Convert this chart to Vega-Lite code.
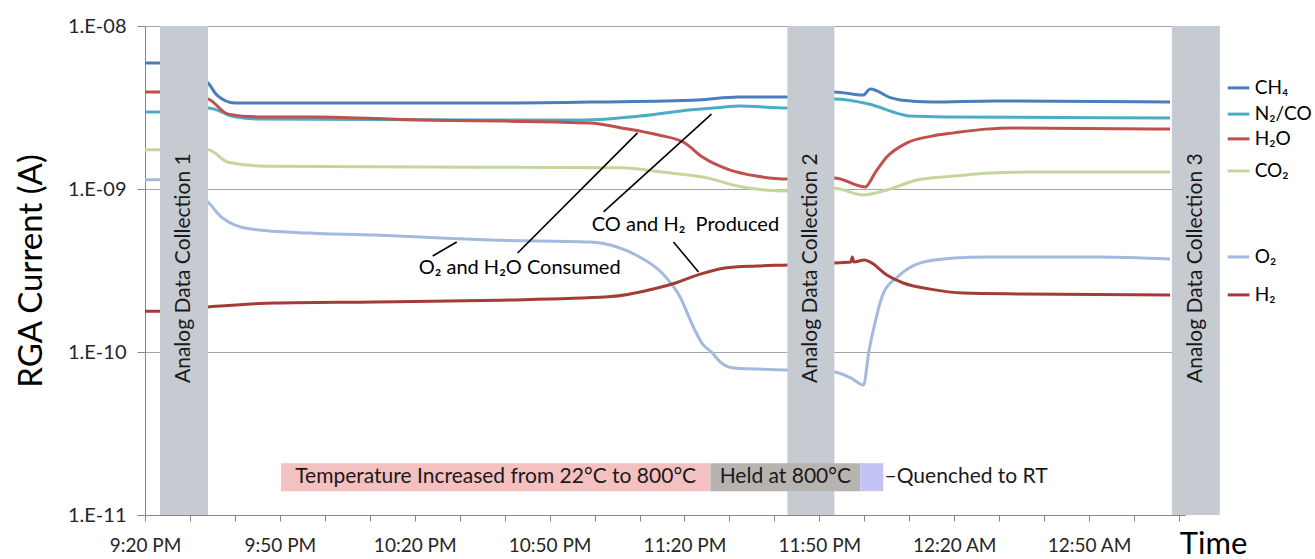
{
  "$schema": "https://vega.github.io/schema/vega-lite/v6.json",
  "width": 1040,
  "height": 489,
  "autosize": {"type": "none"},
  "padding": {"left": 145, "top": 26, "right": 130, "bottom": 44},
  "background": "white",
  "config": {"font": "Lato, 'Noto Sans', 'DejaVu Sans', sans-serif", "view": {"stroke": null}},
  "datasets": {
    "series": [
      {"s":"CH₄","t":"2020-01-01T21:20:00","v":5.93e-9},
      {"s":"CH₄","t":"2020-01-01T21:23:20","v":5.93e-9},
      {"s":"CH₄","t":"2020-01-01T21:34:00","v":4.47e-9},
      {"s":"CH₄","t":"2020-01-01T21:36:00","v":3.77e-9},
      {"s":"CH₄","t":"2020-01-01T21:40:00","v":3.37e-9},
      {"s":"CH₄","t":"2020-01-01T22:16:00","v":3.37e-9},
      {"s":"CH₄","t":"2020-01-01T22:40:00","v":3.37e-9},
      {"s":"CH₄","t":"2020-01-01T23:01:00","v":3.42e-9},
      {"s":"CH₄","t":"2020-01-01T23:23:00","v":3.52e-9},
      {"s":"CH₄","t":"2020-01-01T23:32:00","v":3.67e-9},
      {"s":"CH₄","t":"2020-01-01T23:43:00","v":3.67e-9},
      {"s":"CH₄","t":"2020-01-01T23:53:20","v":3.94e-9},
      {"s":"CH₄","t":"2020-01-01T23:59:45","v":3.77e-9},
      {"s":"CH₄","t":"2020-01-02T00:01:20","v":4.11e-9},
      {"s":"CH₄","t":"2020-01-02T00:06:00","v":3.62e-9},
      {"s":"CH₄","t":"2020-01-02T00:08:00","v":3.52e-9},
      {"s":"CH₄","t":"2020-01-02T00:15:00","v":3.42e-9},
      {"s":"CH₄","t":"2020-01-02T00:29:00","v":3.47e-9},
      {"s":"CH₄","t":"2020-01-02T01:08:00","v":3.42e-9},

      {"s":"N₂/CO","t":"2020-01-01T21:20:00","v":2.97e-9},
      {"s":"N₂/CO","t":"2020-01-01T21:23:20","v":2.97e-9},
      {"s":"N₂/CO","t":"2020-01-01T21:34:00","v":3.14e-9},
      {"s":"N₂/CO","t":"2020-01-01T21:40:00","v":2.77e-9},
      {"s":"N₂/CO","t":"2020-01-01T21:45:00","v":2.69e-9},
      {"s":"N₂/CO","t":"2020-01-01T22:57:00","v":2.65e-9},
      {"s":"N₂/CO","t":"2020-01-01T23:10:00","v":2.80e-9},
      {"s":"N₂/CO","t":"2020-01-01T23:21:00","v":3.05e-9},
      {"s":"N₂/CO","t":"2020-01-01T23:29:00","v":3.19e-9},
      {"s":"N₂/CO","t":"2020-01-01T23:32:00","v":3.23e-9},
      {"s":"N₂/CO","t":"2020-01-01T23:43:00","v":3.14e-9},
      {"s":"N₂/CO","t":"2020-01-01T23:53:20","v":3.57e-9},
      {"s":"N₂/CO","t":"2020-01-02T00:01:00","v":3.32e-9},
      {"s":"N₂/CO","t":"2020-01-02T00:08:00","v":2.88e-9},
      {"s":"N₂/CO","t":"2020-01-02T00:10:00","v":2.80e-9},
      {"s":"N₂/CO","t":"2020-01-02T00:18:00","v":2.77e-9},
      {"s":"N₂/CO","t":"2020-01-02T01:08:00","v":2.73e-9},

      {"s":"H₂O","t":"2020-01-01T21:20:00","v":3.94e-9},
      {"s":"H₂O","t":"2020-01-01T21:23:20","v":3.94e-9},
      {"s":"H₂O","t":"2020-01-01T21:34:00","v":3.57e-9},
      {"s":"H₂O","t":"2020-01-01T21:38:30","v":2.88e-9},
      {"s":"H₂O","t":"2020-01-01T21:45:00","v":2.77e-9},
      {"s":"H₂O","t":"2020-01-01T21:58:00","v":2.77e-9},
      {"s":"H₂O","t":"2020-01-01T22:21:00","v":2.65e-9},
      {"s":"H₂O","t":"2020-01-01T22:40:00","v":2.61e-9},
      {"s":"H₂O","t":"2020-01-01T22:59:00","v":2.54e-9},
      {"s":"H₂O","t":"2020-01-01T23:06:00","v":2.37e-9},
      {"s":"H₂O","t":"2020-01-01T23:14:00","v":2.15e-9},
      {"s":"H₂O","t":"2020-01-01T23:20:00","v":1.92e-9},
      {"s":"H₂O","t":"2020-01-01T23:24:00","v":1.57e-9},
      {"s":"H₂O","t":"2020-01-01T23:30:00","v":1.31e-9},
      {"s":"H₂O","t":"2020-01-01T23:36:00","v":1.20e-9},
      {"s":"H₂O","t":"2020-01-01T23:43:00","v":1.15e-9},
      {"s":"H₂O","t":"2020-01-01T23:53:20","v":1.17e-9},
      {"s":"H₂O","t":"2020-01-02T00:00:10","v":1.03e-9},
      {"s":"H₂O","t":"2020-01-02T00:02:30","v":1.27e-9},
      {"s":"H₂O","t":"2020-01-02T00:05:00","v":1.57e-9},
      {"s":"H₂O","t":"2020-01-02T00:09:30","v":1.92e-9},
      {"s":"H₂O","t":"2020-01-02T00:15:00","v":2.11e-9},
      {"s":"H₂O","t":"2020-01-02T00:20:00","v":2.21e-9},
      {"s":"H₂O","t":"2020-01-02T00:27:00","v":2.33e-9},
      {"s":"H₂O","t":"2020-01-02T00:33:00","v":2.37e-9},
      {"s":"H₂O","t":"2020-01-02T01:08:00","v":2.33e-9},

      {"s":"CO₂","t":"2020-01-01T21:20:00","v":1.74e-9},
      {"s":"CO₂","t":"2020-01-01T21:23:20","v":1.74e-9},
      {"s":"CO₂","t":"2020-01-01T21:34:00","v":1.74e-9},
      {"s":"CO₂","t":"2020-01-01T21:38:30","v":1.46e-9},
      {"s":"CO₂","t":"2020-01-01T21:47:00","v":1.38e-9},
      {"s":"CO₂","t":"2020-01-01T22:40:00","v":1.36e-9},
      {"s":"CO₂","t":"2020-01-01T23:06:00","v":1.35e-9},
      {"s":"CO₂","t":"2020-01-01T23:15:00","v":1.27e-9},
      {"s":"CO₂","t":"2020-01-01T23:25:00","v":1.17e-9},
      {"s":"CO₂","t":"2020-01-01T23:32:00","v":1.04e-9},
      {"s":"CO₂","t":"2020-01-01T23:43:00","v":9.72e-10},
      {"s":"CO₂","t":"2020-01-01T23:53:20","v":1.01e-9},
      {"s":"CO₂","t":"2020-01-01T23:59:45","v":9.19e-10},
      {"s":"CO₂","t":"2020-01-02T00:05:00","v":9.86e-10},
      {"s":"CO₂","t":"2020-01-02T00:12:00","v":1.14e-9},
      {"s":"CO₂","t":"2020-01-02T00:20:00","v":1.20e-9},
      {"s":"CO₂","t":"2020-01-02T00:27:00","v":1.25e-9},
      {"s":"CO₂","t":"2020-01-02T00:36:00","v":1.27e-9},
      {"s":"CO₂","t":"2020-01-02T01:08:00","v":1.27e-9},

      {"s":"O₂","t":"2020-01-01T21:20:00","v":1.14e-9},
      {"s":"O₂","t":"2020-01-01T21:23:20","v":1.14e-9},
      {"s":"O₂","t":"2020-01-01T21:34:00","v":8.32e-10},
      {"s":"O₂","t":"2020-01-01T21:37:00","v":6.73e-10},
      {"s":"O₂","t":"2020-01-01T21:43:30","v":5.68e-10},
      {"s":"O₂","t":"2020-01-01T21:56:00","v":5.37e-10},
      {"s":"O₂","t":"2020-01-01T22:11:00","v":5.22e-10},
      {"s":"O₂","t":"2020-01-01T22:26:00","v":5.00e-10},
      {"s":"O₂","t":"2020-01-01T22:37:00","v":4.86e-10},
      {"s":"O₂","t":"2020-01-01T22:59:00","v":4.73e-10},
      {"s":"O₂","t":"2020-01-01T23:05:00","v":4.41e-10},
      {"s":"O₂","t":"2020-01-01T23:10:00","v":3.83e-10},
      {"s":"O₂","t":"2020-01-01T23:15:00","v":3.05e-10},
      {"s":"O₂","t":"2020-01-01T23:19:00","v":2.18e-10},
      {"s":"O₂","t":"2020-01-01T23:22:00","v":1.42e-10},
      {"s":"O₂","t":"2020-01-01T23:24:00","v":1.12e-10},
      {"s":"O₂","t":"2020-01-01T23:26:00","v":1.00e-10},
      {"s":"O₂","t":"2020-01-01T23:28:00","v":8.68e-11},
      {"s":"O₂","t":"2020-01-01T23:31:00","v":7.98e-11},
      {"s":"O₂","t":"2020-01-01T23:43:00","v":7.75e-11},
      {"s":"O₂","t":"2020-01-01T23:53:20","v":7.54e-11},
      {"s":"O₂","t":"2020-01-01T23:57:00","v":6.93e-11},
      {"s":"O₂","t":"2020-01-01T23:59:50","v":6.27e-11},
      {"s":"O₂","t":"2020-01-02T00:01:00","v":1.00e-10},
      {"s":"O₂","t":"2020-01-02T00:02:00","v":1.36e-10},
      {"s":"O₂","t":"2020-01-02T00:04:15","v":2.30e-10},
      {"s":"O₂","t":"2020-01-02T00:07:20","v":2.88e-10},
      {"s":"O₂","t":"2020-01-02T00:12:30","v":3.52e-10},
      {"s":"O₂","t":"2020-01-02T00:20:00","v":3.77e-10},
      {"s":"O₂","t":"2020-01-02T00:27:00","v":3.83e-10},
      {"s":"O₂","t":"2020-01-02T00:52:00","v":3.83e-10},
      {"s":"O₂","t":"2020-01-02T01:08:00","v":3.72e-10},

      {"s":"H₂","t":"2020-01-01T21:20:00","v":1.78e-10},
      {"s":"H₂","t":"2020-01-01T21:23:20","v":1.78e-10},
      {"s":"H₂","t":"2020-01-01T21:34:00","v":1.89e-10},
      {"s":"H₂","t":"2020-01-01T21:49:00","v":2.00e-10},
      {"s":"H₂","t":"2020-01-01T22:11:00","v":2.03e-10},
      {"s":"H₂","t":"2020-01-01T22:39:00","v":2.08e-10},
      {"s":"H₂","t":"2020-01-01T23:03:00","v":2.18e-10},
      {"s":"H₂","t":"2020-01-01T23:14:00","v":2.47e-10},
      {"s":"H₂","t":"2020-01-01T23:18:00","v":2.65e-10},
      {"s":"H₂","t":"2020-01-01T23:23:00","v":2.97e-10},
      {"s":"H₂","t":"2020-01-01T23:29:00","v":3.28e-10},
      {"s":"H₂","t":"2020-01-01T23:36:00","v":3.37e-10},
      {"s":"H₂","t":"2020-01-01T23:43:00","v":3.42e-10},
      {"s":"H₂","t":"2020-01-01T23:53:20","v":3.52e-10},
      {"s":"H₂","t":"2020-01-01T23:57:00","v":3.56e-10},
      {"s":"H₂","t":"2020-01-01T23:57:20","v":3.83e-10},
      {"s":"H₂","t":"2020-01-01T23:57:40","v":3.56e-10},
      {"s":"H₂","t":"2020-01-02T00:00:00","v":3.67e-10},
      {"s":"H₂","t":"2020-01-02T00:01:20","v":3.56e-10},
      {"s":"H₂","t":"2020-01-02T00:05:00","v":2.97e-10},
      {"s":"H₂","t":"2020-01-02T00:08:40","v":2.65e-10},
      {"s":"H₂","t":"2020-01-02T00:14:40","v":2.43e-10},
      {"s":"H₂","t":"2020-01-02T00:22:00","v":2.30e-10},
      {"s":"H₂","t":"2020-01-02T00:35:00","v":2.27e-10},
      {"s":"H₂","t":"2020-01-02T01:08:00","v":2.24e-10}
    ],
    "bands": [
      {"label":"Analog Data Collection 1","start":"2020-01-01T21:23:20","end":"2020-01-01T21:34:00","mid":"2020-01-01T21:28:40","v":3.27e-10},
      {"label":"Analog Data Collection 2","start":"2020-01-01T23:42:53","end":"2020-01-01T23:53:20","mid":"2020-01-01T23:48:07","v":3.27e-10},
      {"label":"Analog Data Collection 3","start":"2020-01-02T01:08:25","end":"2020-01-02T01:19:05","mid":"2020-01-02T01:13:45","v":3.27e-10}
    ],
    "phases": [
      {"phase":"Temperature Increased from 22°C to 800°C","start":"2020-01-01T21:50:15","end":"2020-01-01T23:25:45","mid":"2020-01-01T22:38:00","lo":1.40e-11,"hi":2.08e-11,"vmid":1.71e-11},
      {"phase":"Held at 800°C","start":"2020-01-01T23:25:45","end":"2020-01-01T23:59:07","mid":"2020-01-01T23:42:26","lo":1.40e-11,"hi":2.08e-11,"vmid":1.71e-11},
      {"phase":"Quenched to RT","start":"2020-01-01T23:59:07","end":"2020-01-02T00:04:13","mid":"2020-01-02T00:01:40","lo":1.40e-11,"hi":2.08e-11,"vmid":1.71e-11}
    ],
    "sideNotes": [
      {"label":"–Quenched to RT","t":"2020-01-02T00:04:30","v":1.71e-11}
    ],
    "leaders": [
      {"t1":"2020-01-01T22:24:00","v1":3.88e-10,"t2":"2020-01-01T22:29:20","v2":4.73e-10},
      {"t1":"2020-01-01T22:42:53","v1":4.05e-10,"t2":"2020-01-01T23:09:33","v2":2.21e-9},
      {"t1":"2020-01-01T23:02:00","v1":7.23e-10,"t2":"2020-01-01T23:26:00","v2":2.88e-9},
      {"t1":"2020-01-01T23:17:33","v1":4.73e-10,"t2":"2020-01-01T23:23:07","v2":3.10e-10}
    ],
    "notes": [
      {"label":"O₂ and H₂O Consumed","t":"2020-01-01T22:43:20","v":3.27e-10},
      {"label":"CO and H₂\u00a0 Produced","t":"2020-01-01T23:20:13","v":6.02e-10}
    ],
    "keyItems": [
      {"s":"CH₄","t1":"2020-01-02T01:20:50","t2":"2020-01-02T01:25:40","tl":"2020-01-02T01:26:50","v":4.17e-9},
      {"s":"N₂/CO","t1":"2020-01-02T01:20:50","t2":"2020-01-02T01:25:40","tl":"2020-01-02T01:26:50","v":2.88e-9},
      {"s":"H₂O","t1":"2020-01-02T01:20:50","t2":"2020-01-02T01:25:40","tl":"2020-01-02T01:26:50","v":2.03e-9},
      {"s":"CO₂","t1":"2020-01-02T01:20:50","t2":"2020-01-02T01:25:40","tl":"2020-01-02T01:26:50","v":1.29e-9},
      {"s":"O₂","t1":"2020-01-02T01:20:50","t2":"2020-01-02T01:25:40","tl":"2020-01-02T01:26:50","v":3.83e-10},
      {"s":"H₂","t1":"2020-01-02T01:20:50","t2":"2020-01-02T01:25:40","tl":"2020-01-02T01:26:50","v":2.24e-10}
    ]
  },
  "layer": [
    {
      "data": {"name": "series"},
      "mark": {"type": "line", "strokeWidth": 3, "interpolate": "monotone"},
      "encoding": {
        "x": {
          "field": "t", "type": "temporal",
          "scale": {"domain": [{"year":2020,"month":1,"date":1,"hours":21,"minutes":20}, {"year":2020,"month":1,"date":2,"hours":1,"minutes":11,"seconds":20}]},
          "axis": {
            "title": "Time", "titleFontSize": 31, "titleFontWeight": "normal", "titleColor": "#000000",
            "titleX": 1068, "titleY": 38, "titleAlign": "center", "titleBaseline": "alphabetic", "titleAngle": 0,
            "grid": false,
            "values": [
              {"year":2020,"month":1,"date":1,"hours":21,"minutes":20},
              {"year":2020,"month":1,"date":1,"hours":21,"minutes":25},
              {"year":2020,"month":1,"date":1,"hours":21,"minutes":30},
              {"year":2020,"month":1,"date":1,"hours":21,"minutes":35},
              {"year":2020,"month":1,"date":1,"hours":21,"minutes":40},
              {"year":2020,"month":1,"date":1,"hours":21,"minutes":45},
              {"year":2020,"month":1,"date":1,"hours":21,"minutes":50},
              {"year":2020,"month":1,"date":1,"hours":21,"minutes":55},
              {"year":2020,"month":1,"date":1,"hours":22,"minutes":0},
              {"year":2020,"month":1,"date":1,"hours":22,"minutes":5},
              {"year":2020,"month":1,"date":1,"hours":22,"minutes":10},
              {"year":2020,"month":1,"date":1,"hours":22,"minutes":15},
              {"year":2020,"month":1,"date":1,"hours":22,"minutes":20},
              {"year":2020,"month":1,"date":1,"hours":22,"minutes":25},
              {"year":2020,"month":1,"date":1,"hours":22,"minutes":30},
              {"year":2020,"month":1,"date":1,"hours":22,"minutes":35},
              {"year":2020,"month":1,"date":1,"hours":22,"minutes":40},
              {"year":2020,"month":1,"date":1,"hours":22,"minutes":45},
              {"year":2020,"month":1,"date":1,"hours":22,"minutes":50},
              {"year":2020,"month":1,"date":1,"hours":22,"minutes":55},
              {"year":2020,"month":1,"date":1,"hours":23,"minutes":0},
              {"year":2020,"month":1,"date":1,"hours":23,"minutes":5},
              {"year":2020,"month":1,"date":1,"hours":23,"minutes":10},
              {"year":2020,"month":1,"date":1,"hours":23,"minutes":15},
              {"year":2020,"month":1,"date":1,"hours":23,"minutes":20},
              {"year":2020,"month":1,"date":1,"hours":23,"minutes":25},
              {"year":2020,"month":1,"date":1,"hours":23,"minutes":30},
              {"year":2020,"month":1,"date":1,"hours":23,"minutes":35},
              {"year":2020,"month":1,"date":1,"hours":23,"minutes":40},
              {"year":2020,"month":1,"date":1,"hours":23,"minutes":45},
              {"year":2020,"month":1,"date":1,"hours":23,"minutes":50},
              {"year":2020,"month":1,"date":1,"hours":23,"minutes":55},
              {"year":2020,"month":1,"date":2,"hours":0,"minutes":0},
              {"year":2020,"month":1,"date":2,"hours":0,"minutes":5},
              {"year":2020,"month":1,"date":2,"hours":0,"minutes":10},
              {"year":2020,"month":1,"date":2,"hours":0,"minutes":15},
              {"year":2020,"month":1,"date":2,"hours":0,"minutes":20},
              {"year":2020,"month":1,"date":2,"hours":0,"minutes":25},
              {"year":2020,"month":1,"date":2,"hours":0,"minutes":30},
              {"year":2020,"month":1,"date":2,"hours":0,"minutes":35},
              {"year":2020,"month":1,"date":2,"hours":0,"minutes":40},
              {"year":2020,"month":1,"date":2,"hours":0,"minutes":45},
              {"year":2020,"month":1,"date":2,"hours":0,"minutes":50},
              {"year":2020,"month":1,"date":2,"hours":0,"minutes":55},
              {"year":2020,"month":1,"date":2,"hours":1,"minutes":0},
              {"year":2020,"month":1,"date":2,"hours":1,"minutes":5},
              {"year":2020,"month":1,"date":2,"hours":1,"minutes":10}
            ],
            "labelExpr": "minutes(datum.value) % 30 == 20 ? timeFormat(datum.value, '%-I:%M %p') : ''",
            "labelFontSize": 19, "labelColor": "#262626",
            "labelOverlap": false, "labelFlush": false, "labelBound": false,
            "labelPadding": 15,
            "domainColor": "#868686", "tickColor": "#868686",
            "tickSize": 6
          }
        },
        "y": {
          "field": "v", "type": "quantitative",
          "scale": {"type": "log", "domain": [1e-11, 1e-8], "nice": false},
          "axis": {
            "title": "RGA Current (A)", "titleFontSize": 33, "titleFontWeight": "normal", "titleColor": "#000000",
            "titleX": -114, "titleY": 244.5, "titleAngle": -90, "titleAlign": "center", "titleBaseline": "middle",
            "values": [1e-11, 1e-10, 1e-9, 1e-8],
            "labelExpr": "'1.E-' + (round(-log(datum.value)/LN10) < 10 ? '0' : '') + round(-log(datum.value)/LN10)",
            "labelFontSize": 20, "labelColor": "#262626", "labelPadding": 11,
            "grid": true, "gridColor": "#a6a6a6", "gridWidth": 1,
            "domainColor": "#868686", "tickColor": "#868686", "tickSize": 8
          }
        },
        "color": {
          "field": "s", "type": "nominal", "legend": null,
          "scale": {"domain": ["CH₄","N₂/CO","H₂O","CO₂","O₂","H₂"], "range": ["#4a7ebb","#4bacc6","#c0504d","#c4d79b","#a3b9dd","#a33c36"]}
        }
      }
    },
    {
      "data": {"name": "bands"},
      "mark": {"type": "rect", "fill": "#c6cbd2"},
      "encoding": {
        "x": {"field": "start", "type": "temporal"},
        "x2": {"field": "end"},
        "y": {"datum": 1e-8},
        "y2": {"datum": 1e-11}
      }
    },
    {
      "data": {"name": "bands"},
      "mark": {"type": "text", "angle": 270, "fontSize": 21, "align": "center", "baseline": "middle", "color": "#1a1a1a"},
      "encoding": {
        "x": {"field": "mid", "type": "temporal"},
        "y": {"field": "v", "type": "quantitative"},
        "text": {"field": "label"}
      }
    },
    {
      "data": {"name": "phases"},
      "mark": {"type": "rect"},
      "encoding": {
        "x": {"field": "start", "type": "temporal"},
        "x2": {"field": "end"},
        "y": {"field": "hi", "type": "quantitative"},
        "y2": {"field": "lo"},
        "fill": {"field": "phase", "type": "nominal", "legend": null,
          "scale": {"domain": ["Temperature Increased from 22°C to 800°C","Held at 800°C","Quenched to RT"], "range": ["#f5c0c0","#b6b3b1","#c3c3f5"]}}
      }
    },
    {
      "data": {"name": "phases"},
      "transform": [{"filter": "datum.phase != 'Quenched to RT'"}],
      "mark": {"type": "text", "fontSize": 21, "align": "center", "baseline": "middle", "color": "#1a1a1a"},
      "encoding": {
        "x": {"field": "mid", "type": "temporal"},
        "y": {"field": "vmid", "type": "quantitative"},
        "text": {"field": "phase"}
      }
    },
    {
      "data": {"name": "sideNotes"},
      "mark": {"type": "text", "fontSize": 21, "align": "left", "baseline": "middle", "color": "#1a1a1a"},
      "encoding": {
        "x": {"field": "t", "type": "temporal"},
        "y": {"field": "v", "type": "quantitative"},
        "text": {"field": "label"}
      }
    },
    {
      "data": {"name": "leaders"},
      "mark": {"type": "rule", "color": "#000000", "strokeWidth": 1.6},
      "encoding": {
        "x": {"field": "t1", "type": "temporal"},
        "x2": {"field": "t2"},
        "y": {"field": "v1", "type": "quantitative"},
        "y2": {"field": "v2"}
      }
    },
    {
      "data": {"name": "notes"},
      "mark": {"type": "text", "fontSize": 20, "align": "center", "baseline": "middle", "color": "#000000"},
      "encoding": {
        "x": {"field": "t", "type": "temporal"},
        "y": {"field": "v", "type": "quantitative"},
        "text": {"field": "label"}
      }
    },
    {
      "data": {"name": "keyItems"},
      "mark": {"type": "rule", "strokeWidth": 3},
      "encoding": {
        "x": {"field": "t1", "type": "temporal"},
        "x2": {"field": "t2"},
        "y": {"field": "v", "type": "quantitative"},
        "color": {"field": "s", "type": "nominal", "legend": null}
      }
    },
    {
      "data": {"name": "keyItems"},
      "mark": {"type": "text", "fontSize": 19, "align": "left", "baseline": "middle", "color": "#000000"},
      "encoding": {
        "x": {"field": "tl", "type": "temporal"},
        "y": {"field": "v", "type": "quantitative"},
        "text": {"field": "s"}
      }
    }
  ]
}
